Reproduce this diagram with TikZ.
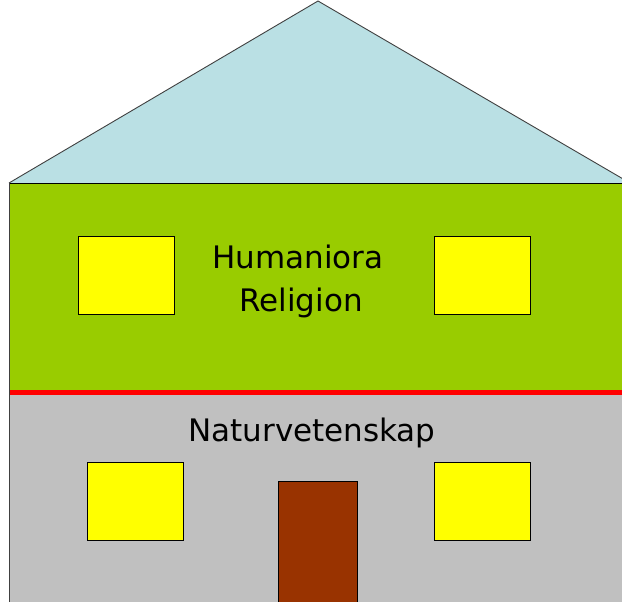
\documentclass[tikz,border=0pt]{standalone}
\usepackage{fontspec}
\setmainfont{DejaVu Sans}
\definecolor{roofblue}{HTML}{BAE0E4}
\definecolor{wallgreen}{HTML}{99CC00}
\definecolor{wallgray}{HTML}{C0C0C0}
\definecolor{doorbrown}{HTML}{993300}
\definecolor{edgegray}{HTML}{404040}
\definecolor{winyellow}{HTML}{FFFF00}
\definecolor{linered}{HTML}{FF0000}
\begin{document}
\begin{tikzpicture}[x=1pt,y=-1pt,
  win/.style={fill=winyellow,draw=black,line width=0.8pt},
  lbl/.style={font=\fontsize{31}{36}\selectfont,anchor=base,inner sep=0pt}]
\useasboundingbox (0,0) rectangle (622,602);
\fill[white] (0,0) rectangle (622,602);
% roof
\filldraw[fill=roofblue,draw=edgegray,line width=0.9pt] (9,183) -- (318,1) -- (630,183);
% upper wall
\fill[wallgreen] (9,183) rectangle (630,391);
% lower wall
\fill[wallgray] (9,394) rectangle (630,610);
% red floor line
\fill[linered] (9,389.5) rectangle (630,395);
% wall top line and left edge
\draw[black,line width=1pt] (9,183) -- (630,183);
\draw[edgegray,line width=1pt] (9,183) -- (9,610);
% windows
\node[win,minimum width=96pt,minimum height=78pt,inner sep=0pt] (w1) at (126.5,275) {};
\node[win,minimum width=96pt,minimum height=78pt,inner sep=0pt] (w2) at (482,275) {};
\node[win,minimum width=96pt,minimum height=78pt,inner sep=0pt] (w3) at (135,501) {};
\node[win,minimum width=96pt,minimum height=78pt,inner sep=0pt] (w4) at (482,501) {};
% door
\filldraw[fill=doorbrown,draw=black,line width=0.8pt] (278,481) rectangle (357,615);
% labels
\node[lbl] (hum) at (298,268) {Humaniora};
\node[lbl] (rel) at (301,311) {Religion};
\node[lbl] (nat) at (312,441) {Naturvetenskap};
\end{tikzpicture}
\end{document}
